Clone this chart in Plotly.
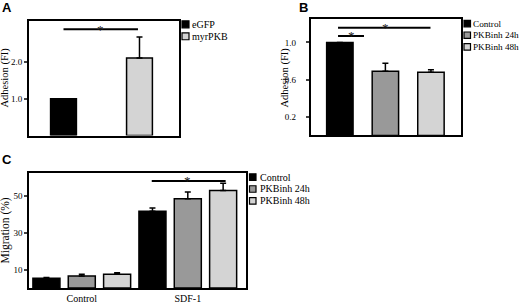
import plotly.graph_objects as go

W, H = 520, 304

# ---------------- data ----------------
# Panel A
a_groups = ["eGFP", "myrPKB"]
a_values = [1.0, 2.1]
a_errors = [0.0, 0.57]
a_colors = ["#000000", "#d4d4d4"]
a_ticks = [1.0, 2.0]
a_ticktext = ["1.0", "2.0"]

# Panel B
b_groups = ["Control", "PKBinh 24h", "PKBinh 48h"]
b_values = [1.0, 0.69, 0.68]
b_errors = [0.0, 0.085, 0.025]
b_colors = ["#000000", "#999999", "#d4d4d4"]
b_ticks = [0.2, 0.6, 1.0]
b_ticktext = ["0.2", "0.6", "1.0"]

# Panel C
c_categories = ["Control", "SDF-1"]
c_series = ["Control", "PKBinh 24h", "PKBinh 48h"]
c_control = [5.4, 41.8]
c_pkb24 = [6.6, 48.6]
c_pkb48 = [7.6, 53.1]
c_err_control = [0.4, 1.8]
c_err_pkb24 = [0.9, 3.7]
c_err_pkb48 = [0.7, 4.0]
c_colors = ["#000000", "#999999", "#d4d4d4"]
c_ticks = [10, 30, 50]

SERIF = "Liberation Serif, Times New Roman, serif"
SANS = "Liberation Sans, Arial, sans-serif"


def px(x):
    return x / W


def py(y):
    return 1 - y / H


def errbar(arr):
    return dict(type="data", array=arr, arrayminus=[0] * len(arr), symmetric=False,
                color="black", thickness=1.5, width=3)


fig = go.Figure()

# Panel A bars
fig.add_trace(go.Bar(x=a_groups, y=a_values, width=0.34,
                     marker=dict(color=a_colors, line=dict(color="black", width=1.5)),
                     error_y=errbar(a_errors), xaxis="x", yaxis="y", showlegend=False))

# Panel B bars
fig.add_trace(go.Bar(x=b_groups, y=b_values, width=0.58,
                     marker=dict(color=b_colors, line=dict(color="black", width=1.5)),
                     error_y=errbar(b_errors), xaxis="x2", yaxis="y2", showlegend=False))

# Panel C grouped bars
c_vals = [c_control, c_pkb24, c_pkb48]
c_errs = [c_err_control, c_err_pkb24, c_err_pkb48]
for name, vals, errs, col in zip(c_series, c_vals, c_errs, c_colors):
    fig.add_trace(go.Bar(x=c_categories, y=vals, name=name,
                         marker=dict(color=col, line=dict(color="black", width=1.5)),
                         error_y=errbar(errs), xaxis="x3", yaxis="y3", showlegend=False))

axis_common = dict(showline=True, mirror=True, linecolor="black", linewidth=2,
                   showgrid=False, zeroline=False)
tickf = dict(size=9, family=SERIF, color="black")

fig.update_layout(
    width=W, height=H,
    margin=dict(l=0, r=0, t=0, b=0),
    paper_bgcolor="white", plot_bgcolor="white",
    barmode="group", bargap=0, bargroupgap=0.235,
    font=dict(family=SERIF, color="black", size=10),
    xaxis=dict(domain=[px(29), px(179)], range=[-0.454, 1.52], anchor="y",
               showticklabels=False, ticks="", **axis_common),
    yaxis=dict(domain=[py(136.5), py(21)], range=[0, 3.11], anchor="x",
               tickvals=a_ticks, ticktext=a_ticktext, ticks="outside", ticklen=3,
               tickwidth=1.5, tickfont=tickf, **axis_common),
    xaxis2=dict(domain=[px(310.7), px(461)], range=[-0.64, 2.66], anchor="y2",
                showticklabels=False, ticks="", **axis_common),
    yaxis2=dict(domain=[py(136.3), py(19.3)], range=[0, 1.25], anchor="x2",
                tickvals=b_ticks, ticktext=b_ticktext, ticks="outside", ticklen=3,
                tickwidth=1.5, tickfont=tickf, ticklabelstandoff=8, **axis_common),
    xaxis3=dict(domain=[px(29.3), px(246)], range=[-0.495, 1.549], anchor="y3",
                ticks="", tickfont=dict(size=10, family=SERIF, color="black"), **axis_common),
    yaxis3=dict(domain=[py(290), py(174)], range=[0, 62.7], anchor="x3",
                tickvals=c_ticks, ticks="outside", ticklen=3, tickwidth=1.5,
                tickfont=tickf, **axis_common),
)

shapes = []
annotations = []

# significance lines and stars
sig = [
    ("x", "y", 0.0, 0.98, 2.88, 0.49),
    ("x2", "y2", -0.04, 0.53, 1.07, 0.25),
    ("x2", "y2", -0.04, 1.99, 1.157, 0.995),
    ("x3", "y3", 0.66, 1.357, 58.3, 1.0),
]
for xr, yr, x0, x1, yv, xs in sig:
    shapes.append(dict(type="line", xref=xr, yref=yr, x0=x0, x1=x1, y0=yv, y1=yv,
                       line=dict(color="black", width=2)))
    annotations.append(dict(xref=xr, yref=yr, x=xs, y=yv, text="*", showarrow=False,
                            xanchor="center", yanchor="middle", yshift=0,
                            font=dict(size=13, color="#222222", family=SERIF)))


# legends (drawn manually to match the compact spacing)
def legend(names, colors, x, y0, step, size, textx, fsize):
    for i, (n, c) in enumerate(zip(names, colors)):
        top = y0 + i * step
        shapes.append(dict(type="rect", xref="paper", yref="paper",
                           x0=px(x), x1=px(x + size), y0=py(top + size), y1=py(top),
                           fillcolor=c, line=dict(color="black", width=1.2)))
        annotations.append(dict(xref="paper", yref="paper", x=px(textx), y=py(top + size / 2),
                                text=n, showarrow=False, xanchor="left", yanchor="middle",
                                borderpad=0,
                                font=dict(size=fsize, family=SERIF)))


legend(a_groups, a_colors, 182, 21, 12, 7, 190.5, 10)
legend(b_groups, b_colors, 464, 20.5, 11.7, 6.5, 472, 9.2)
legend(c_series, c_colors, 249.5, 175, 12, 6.5, 259, 10)

# y-axis titles
for x, y, t, s in [(5, 78, "Adhesion (FI)", 10.5), (285, 78, "Adhesion (FI)", 10.5),
                   (5, 232, "Migration (%)", 11.5)]:
    annotations.append(dict(xref="paper", yref="paper", x=px(x), y=py(y), text=t,
                            textangle=-90, showarrow=False, xanchor="center", yanchor="middle",
                            font=dict(size=s, family=SERIF)))

# panel letters
for x, y, t in [(0, -2, "A"), (297, -2, "B"), (0, 151, "C")]:
    annotations.append(dict(xref="paper", yref="paper", x=px(x), y=py(y), text="<b>%s</b>" % t,
                            showarrow=False, xanchor="left", yanchor="top",
                            font=dict(size=13, family=SANS)))

fig.update_layout(shapes=shapes, annotations=annotations)
fig.write_html("out.html", config={"displayModeBar": False},
               post_script="document.body.style.margin='0';document.body.style.padding='0';"
                           "document.body.style.overflow='hidden';")
